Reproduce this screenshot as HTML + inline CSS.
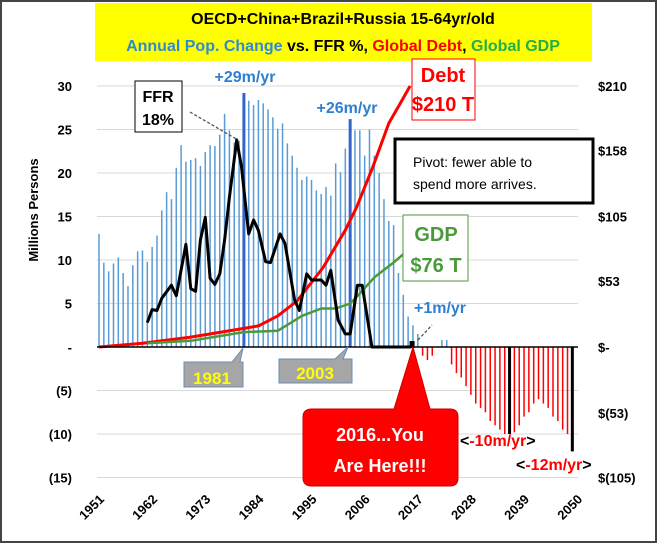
<!DOCTYPE html>
<html><head><meta charset="utf-8"><style>
body{margin:0;background:#fff}
#wrap{position:relative;width:657px;height:543px;overflow:hidden;font-family:"Liberation Sans",sans-serif}
svg text{font-family:"Liberation Sans",sans-serif}
</style></head><body>
<div id="wrap">
<svg id="chart" width="657" height="543">
<rect x="1" y="1" width="655" height="541" fill="#fff" stroke="#444" stroke-width="2"/>
<g id="grid"></g>
<g id="bars"></g>
<g id="lines"></g>
<g id="axes"></g>
<rect x="95" y="3" width="497" height="58" fill="#ffff00"/>
<text x="343" y="24" text-anchor="middle" font-size="16" font-weight="bold" fill="#000">OECD+China+Brazil+Russia  15-64yr/old</text>
<text x="343" y="51" text-anchor="middle" font-size="16" font-weight="bold"><tspan fill="#2e8bd0">Annual Pop. Change</tspan><tspan fill="#000"> vs. FFR %, </tspan><tspan fill="#ff0000">Global Debt</tspan><tspan fill="#000">, </tspan><tspan fill="#22b04a">Global GDP</tspan></text>
<text transform="translate(38,210) rotate(-90)" text-anchor="middle" font-size="13" font-weight="bold">Millions Persons</text>
<rect x="135" y="81" width="47" height="51" fill="#fff" stroke="#000" stroke-width="1"/>
<text x="158" y="102" text-anchor="middle" font-size="16" font-weight="bold">FFR</text>
<text x="158" y="125" text-anchor="middle" font-size="16" font-weight="bold">18%</text>
<path d="M190 112 L238 140" stroke="#555" stroke-dasharray="3,2" stroke-width="1.3" fill="none"/>
<text x="245" y="82" text-anchor="middle" font-size="16" font-weight="bold" fill="#2e7fd0">+29m/yr</text>
<text x="347" y="113" text-anchor="middle" font-size="16" font-weight="bold" fill="#2e7fd0">+26m/yr</text>
<rect x="412" y="59" width="63" height="61" fill="#fff" stroke="#ff0000" stroke-width="1"/>
<text x="443" y="82" text-anchor="middle" font-size="20" font-weight="bold" fill="#ff0000">Debt</text>
<text x="443" y="111" text-anchor="middle" font-size="20" font-weight="bold" fill="#ff0000">$210 T</text>
<rect x="395" y="139" width="198" height="64" fill="#fff" stroke="#000" stroke-width="3"/>
<text x="413" y="167" font-size="14">Pivot: fewer able to</text>
<text x="413" y="189" font-size="14">spend more arrives.</text>
<rect x="403" y="215" width="65" height="66" fill="#fff" stroke="#4a9a3a" stroke-width="1"/>
<text x="436" y="241" text-anchor="middle" font-size="20" font-weight="bold" fill="#4a9a3a">GDP</text>
<text x="436" y="272" text-anchor="middle" font-size="20" font-weight="bold" fill="#4a9a3a">$76 T</text>
<text x="440" y="313" text-anchor="middle" font-size="16" font-weight="bold" fill="#2e7fd0">+1m/yr</text>
<path d="M418 340 L432 325" stroke="#555" stroke-dasharray="3,2" stroke-width="1.3"/>
<path d="M184 362 L232 362 L243 348 L240 362 L243 362 L243 387 L184 387 Z" fill="#a6a6a6" stroke="#6b8fb5" stroke-width="1"/>
<text x="212" y="384" text-anchor="middle" font-size="17" font-weight="bold" fill="#ffff00">1981</text>
<path d="M279 359 L335 359 L348 347 L343 359 L352 359 L352 383 L279 383 Z" fill="#a6a6a6" stroke="#6b8fb5" stroke-width="1"/>
<text x="315" y="379" text-anchor="middle" font-size="17" font-weight="bold" fill="#ffff00">2003</text>
<path d="M312 409 L394 409 L413 347 L430 409 L450 409 Q458 409 458 417 L458 478 Q458 486 450 486 L312 486 Q303 486 303 478 L303 417 Q303 409 312 409 Z" fill="#ff0000" stroke="#c00" stroke-width="1"/>
<text x="380" y="441" text-anchor="middle" font-size="18" font-weight="bold" fill="#fff">2016...You</text>
<text x="380" y="472" text-anchor="middle" font-size="18" font-weight="bold" fill="#fff">Are Here!!!</text>
<text x="460" y="446" font-size="16" font-weight="bold"><tspan fill="#000">&lt;</tspan><tspan fill="#ff0000">-10m/yr</tspan><tspan fill="#000">&gt;</tspan></text>
<text x="516" y="470" font-size="16" font-weight="bold"><tspan fill="#000">&lt;</tspan><tspan fill="#ff0000">-12m/yr</tspan><tspan fill="#000">&gt;</tspan></text>
</svg>
</div>
<script>
const years = [];
for (let y = 1951; y <= 2050; y++) years.push(y);
const popChange = [13,9.7,8.7,9.6,10.3,8.5,7,9.4,11,11.1,9.8,11.5,12.8,15.7,17.8,17,20.6,23.2,21.3,21.5,21.7,20.8,22.4,23.2,23.1,24.4,26.8,24.9,23.5,23.7,29.2,28.3,27.8,28.4,28,27.3,26.4,25.1,25.7,23.4,22,20.6,19.2,19.6,19.2,18,17.6,18.4,17.4,21.1,20.1,22.8,26.2,24.9,24.9,22,25,22,20,17,14.5,14,8.5,6,3.5,2.5,1.5,-1,-1.5,-1,0,0.8,0.8,-2,-3,-3.5,-4.5,-5.5,-6.5,-7,-7.5,-8.5,-9,-9.5,-10,-10,-9.8,-9,-8,-7.5,-6.5,-6,-6.5,-7,-8,-8.5,-9.5,-10,-12,0];
const highlightYears = [1981,2003];
const blackBarYears = [2036,2049];
const ffrYears = [1961,1962,1963,1964,1966,1967,1969,1970,1971,1972,1973,1974,1975,1976,1977,1978,1979.5,1980.5,1982,1983,1984,1985.5,1986.5,1988.5,1989.5,1991.5,1992.5,1994,1995,1997,1998,1999,2000.5,2002,2003,2004.5,2005.5,2007.5,2015.5,2016];
const ffrValues = [2.8,4.3,4.2,5.6,7.1,5.9,11.8,6.7,6.4,12.3,14.9,7.9,7.2,8.4,12.3,17.2,23.8,20.7,13,14.6,13.4,9.8,9.7,13,11.9,5.4,4.2,8.4,7.7,7.7,7.1,8.8,3.1,1.5,1.5,7.1,7.1,0,0,0.5];
const debtYears = [1951,1960,1970,1981,1984,1988,1992,1997.4,2002,2004.4,2007.7,2011,2013.5,2015.4];
const debtValues = [0,3,8,15,17,25,37,64,94,113,145,180,197,210];
const gdpYears = [1961,1970,1981,1988,1993,1997,2000,2003,2005,2008,2010,2012,2015];
const gdpValues = [3,5,12,13,25,31,31,35,43,56,62,68,78];
const leftTicks = [30,25,20,15,10,5,0,-5,-10,-15];
const leftTickLabels = ["30","25","20","15","10","5","-","(5)","(10)","(15)"];
const rightTicks = [210,158,105,53,0,-53,-105];
const rightTickLabels = ["$210","$158","$105","$53","$-","$(53)","$(105)"];
const xTickYears = [1951,1962,1973,1984,1995,2006,2017,2028,2039,2050];

const NS = "http://www.w3.org/2000/svg";
const X0 = 99, PXY = 4.83, Y0 = 347, PXU = 8.7;
function xs(y){return X0 + (y-1951)*PXY;}
function ys(v){return Y0 - v*PXU;}
function yr(d){return Y0 - (d/7)*PXU;}
function mk(tag, attrs, parent){const e=document.createElementNS(NS,tag);for(const k in attrs)e.setAttribute(k,attrs[k]);parent.appendChild(e);return e;}

const grid=document.getElementById('grid'), bars=document.getElementById('bars'), lines=document.getElementById('lines'), axes=document.getElementById('axes');
leftTicks.forEach((t,i)=>{
  if(t!==0){const g=mk('line',{x1:97,x2:578,y1:ys(t),y2:ys(t),stroke:'#d9d9d9','stroke-width':1},grid);
  
  }
  const tx=mk('text',{x:72,y:ys(t)+5,'text-anchor':'end','font-size':13,'font-weight':'bold'},axes);
  tx.textContent=leftTickLabels[i];
  
  
});
rightTicks.forEach((t,i)=>{
  const tx=mk('text',{x:598,y:yr(t)+5,'font-size':13,'font-weight':'bold'},axes);
  tx.textContent=rightTickLabels[i];
  
  
});
years.forEach((y,i)=>{
  const v=popChange[i]; if(!v) return;
  let col = v>0 ? '#5b9bd5' : '#ff0000', w=1.5;
  if(highlightYears.includes(y)){col='#3366cc';w=3;}
  if(blackBarYears.includes(y)){col='#000';w=3;}
  const top=Math.min(ys(v),Y0), h=Math.abs(ys(v)-Y0);
  const r=mk('rect',{x:xs(y)-w/2,y:top,width:w,height:h,fill:col},bars);
  
  
});
const ax=mk('line',{x1:97,x2:578,y1:Y0,y2:Y0,stroke:'#000','stroke-width':1.5},axes);


xTickYears.forEach(y=>{
  const tx=mk('text',{transform:`translate(${xs(y)+6},${500}) rotate(-45)`,'text-anchor':'end','font-size':13,'font-weight':'bold'},axes);
  tx.textContent=y;
  
  
});
function path(xa,va,fy,col,w,name){
  const d=xa.map((y,i)=>(i?'L':'M')+xs(y).toFixed(1)+' '+fy(va[i]).toFixed(1)).join(' ');
  const p=mk('path',{d:d,fill:'none',stroke:col,'stroke-width':w,'stroke-linejoin':'round'},lines);
  
  
}
path(debtYears,debtValues,yr,'#ff0000',3,'debt-line');
path(gdpYears,gdpValues,yr,'#4a9a3a',2.5,'gdp-line');
path(ffrYears,ffrValues,ys,'#000',3,'ffr-line');
const m=mk('rect',{x:xs(2015.3),y:Y0-6,width:5,height:7,fill:'#000'},lines);


</script>
</body></html>
